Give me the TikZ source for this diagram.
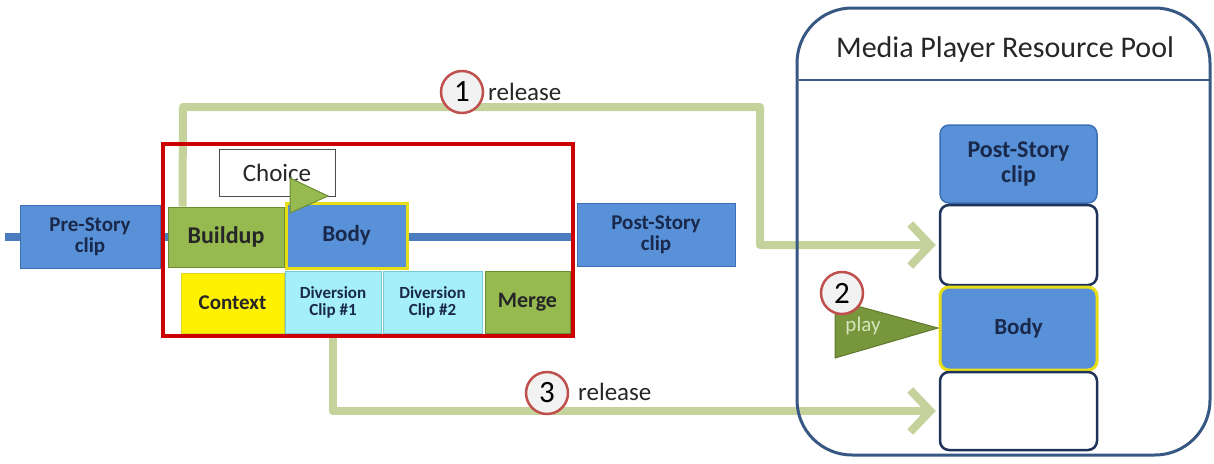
\documentclass[tikz,border=0pt]{standalone}
\usepackage{fontspec}
\setmainfont{Carlito}
\usetikzlibrary{arrows.meta,calc,backgrounds}
\definecolor{boxblue}{RGB}{88,145,215}
\definecolor{boxblueb}{RGB}{60,110,180}
\definecolor{navy}{RGB}{25,40,75}
\definecolor{bargreen}{RGB}{150,185,80}
\definecolor{bargreenb}{RGB}{110,140,50}
\definecolor{cyanbox}{RGB}{165,240,248}
\definecolor{cyanb}{RGB}{120,200,215}
\definecolor{relgreen}{RGB}{198,210,155}
\definecolor{framered}{RGB}{205,0,0}
\definecolor{timeline}{RGB}{75,125,190}
\definecolor{poolb}{RGB}{55,88,130}
\definecolor{slotb}{RGB}{30,50,90}
\definecolor{circred}{RGB}{192,80,77}
\definecolor{playgreen}{RGB}{120,150,60}
\definecolor{playtext}{RGB}{215,228,190}
\begin{document}
\begin{tikzpicture}[x=1pt,y=-1pt,
  clip/.style={draw=boxblueb,line width=1pt,fill=boxblue,text=navy,font=\bfseries\fontsize{21}{21}\selectfont,align=center,inner sep=0pt},
  greenbox/.style={draw=bargreenb,line width=1pt,fill=bargreen,text=black!85,font=\bfseries\fontsize{24}{24}\selectfont,align=center,inner sep=0pt},
  divbox/.style={draw=cyanb,line width=1pt,fill=cyanbox,text=navy,font=\bfseries\fontsize{17}{17}\selectfont,align=center,inner sep=0pt},
  bodybox/.style={draw=yellow!90!black,line width=3pt,fill=boxblue,text=navy,font=\bfseries\fontsize{23}{23}\selectfont,inner sep=0pt},
  slotbox/.style={draw=slotb,line width=2.5pt,fill=white,rounded corners=9pt,inner sep=0pt},
  numcirc/.style={circle,draw=circred,line width=2.5pt,fill=black!5,minimum size=42pt,inner sep=0pt,font=\fontsize{31}{31}\selectfont},
  reltext/.style={font=\fontsize{25}{25}\selectfont,anchor=west,inner sep=0pt,text=black!85},
  relarrow/.style={draw=relgreen,line width=8pt,line join=round,-{Straight Barb[length=20pt,width=42pt]}}
]
\useasboundingbox (0,0) rectangle (1214,463);
% timeline bar
\coordinate (tl0) at (5,237);
\coordinate (tl1) at (575,237);
\draw[timeline,line width=8pt] (tl0) -- (tl1);
% red frame
\node[draw=framered,line width=4pt,minimum width=410pt,minimum height=192pt,inner sep=0pt] (frame) at (368,240) {};
% pool
\draw[poolb,line width=3pt,rounded corners=55pt] (797,8) rectangle (1210,455);
\coordinate (hl0) at (798.5,80);
\coordinate (hl1) at (1208.5,80);
\draw[poolb,line width=2pt] (hl0) -- (hl1);
\node[font=\fontsize{30}{30}\selectfont,text=black!85] (pooltitle) at (1005,50) {Media Player Resource Pool};
% pool slots
\node[clip,rounded corners=9pt,minimum width=157pt,minimum height=78pt,draw=boxblueb,line width=1.5pt,font=\bfseries\fontsize{24}{25}\selectfont] (ppost) at (1018.5,164) {Post-Story\\clip};
\node[slotbox,minimum width=157pt,minimum height=80pt] (slot1) at (1018.5,245) {};
\node[bodybox,rounded corners=9pt,minimum width=157pt,minimum height=83pt] (pbody) at (1018.5,328.5) {Body};
\node[slotbox,minimum width=157pt,minimum height=78pt] (slot2) at (1018.5,411) {};
% timeline boxes
\node[clip,minimum width=140pt,minimum height=63pt] (pre) at (90,236.5) {Pre-Story\\clip};
\node[clip,minimum width=158pt,minimum height=63pt] (post) at (656,234.5) {Post-Story\\clip};
% frame contents
\node[draw=black!70,line width=1pt,fill=white,minimum width=116pt,minimum height=47pt,font=\fontsize{25}{25}\selectfont,text=black!85,inner sep=0pt] (choice) at (277,172.5) {Choice};
\node[greenbox,minimum width=116pt,minimum height=60pt] (buildup) at (226,237) {Buildup};
\node[bodybox,minimum width=121pt,minimum height=65pt] (body) at (346.5,235.5) {Body};
\coordinate (t1) at (290,178);
\coordinate (t2) at (328,196);
\coordinate (t3) at (290,213);
\filldraw[fill=bargreen,draw=bargreenb,line width=1pt] (t1) -- (t2) -- (t3) -- cycle;
\node[draw=yellow!85!black,line width=1pt,fill=yellow,minimum width=103pt,minimum height=60pt,font=\bfseries\fontsize{21}{21}\selectfont,text=black!85,inner sep=0pt] (context) at (232.5,303) {Context};
\node[divbox,minimum width=96pt,minimum height=62pt] (div1) at (333,302) {Diversion\\Clip \#1};
\node[divbox,minimum width=99pt,minimum height=62pt] (div2) at (432.5,302) {Diversion\\Clip \#2};
\node[greenbox,minimum width=85pt,minimum height=62pt,font=\bfseries\fontsize{22}{22}\selectfont] (merge) at (527.5,302) {Merge};
% release arrows (behind boxes)
\begin{pgfonlayer}{background}
\coordinate (c1a) at (183,107);
\coordinate (c1b) at (760,107);
\coordinate (c1c) at (760,245);
\draw[relarrow] ([xshift=15pt]buildup.north west) -- (c1a) -- (c1b) -- (c1c) -- ([xshift=-3pt]slot1.west);
\coordinate (c3a) at (333,411);
\draw[relarrow] (div1.south) -- (c3a) -- ([xshift=-3pt]slot2.west);
\end{pgfonlayer}
% play
\coordinate (p1) at (835,300);
\coordinate (p2) at (938,328);
\coordinate (p3) at (835,358);
\filldraw[fill=playgreen,draw=playgreen!80!black,line width=1pt] (p1) -- (p2) -- (p3) -- cycle;
\node[text=playtext,font=\fontsize{21}{21}\selectfont,inner sep=0pt] (playlbl) at (863,326) {play};
% numbered circles
\node[numcirc] (n1) at (462,92) {1};
\node[reltext] (r1) at (488,92) {release};
\node[numcirc] (n2) at (842,293) {2};
\node[numcirc] (n3) at (547,393) {3};
\node[reltext] (r3) at (578,392) {release};
\end{tikzpicture}
\end{document}
